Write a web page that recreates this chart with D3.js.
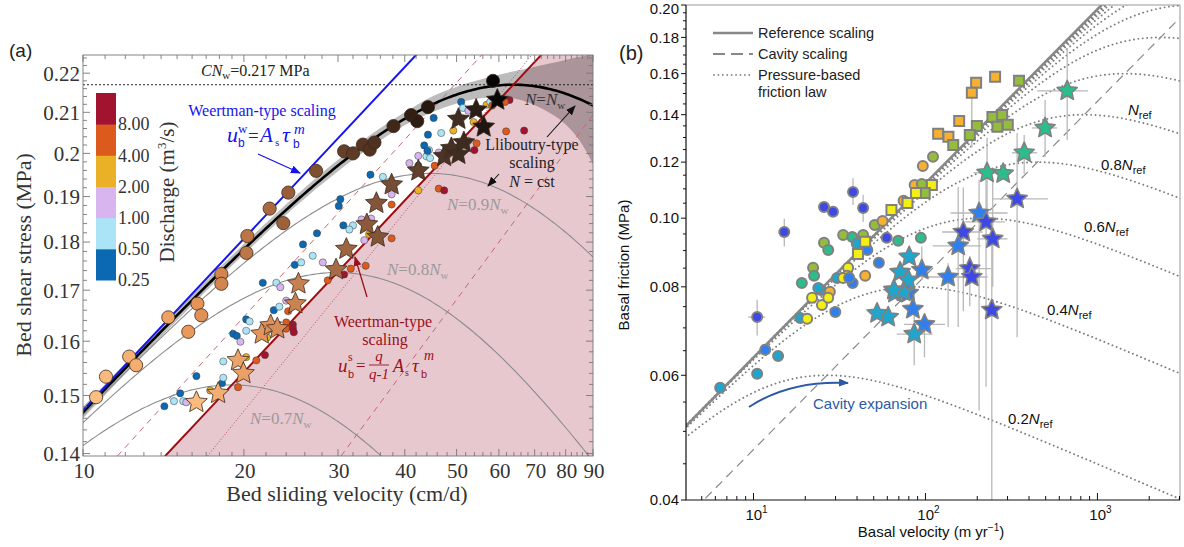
<!DOCTYPE html>
<html>
<head>
<meta charset="utf-8">
<script src="https://cdn.jsdelivr.net/npm/d3@7"></script>
<style>
  body { margin: 0; background: #fff; }
  svg { display: block; }
  .serif { font-family: "Liberation Serif", "Times New Roman", serif; }
  .sans { font-family: "Liberation Sans", Arial, sans-serif; }
</style>
</head>
<body>
<svg id="fig" width="1184" height="547"></svg>
<script>
// ---------- panel (a): bed shear stress (MPa) vs bed sliding velocity (cm/d) ----------
var dischargeLabels = ["0.25", "0.50", "1.00", "2.00", "4.00", "8.00"];
var dischargeColors = ["#0b69b3", "#abe4f6", "#d8b5ef", "#ebb126", "#dc5a1c", "#a2132f"];

// small circles: [velocity, stress, discharge bin]
var smallPts = [
  [14.2,0.1481,0],[14.8,0.1490,1],[15.2,0.1504,0],[15.4,0.1490,1],[15.6,0.1488,2],[16.3,0.1535,0],
  [17.3,0.1509,3],[18.2,0.1522,0],[18.3,0.1532,1],[19.5,0.1515,4],[18.3,0.1562,1],[19.1,0.1614,0],
  [19.4,0.1610,0],[19.7,0.1599,2],[20.2,0.1642,0],[20.5,0.1638,1],[20.2,0.1620,1],[20.2,0.1570,3],
  [21.1,0.1564,4],[21.9,0.1574,5],[21.7,0.1715,0],[23.0,0.1715,1],[23.4,0.1706,2],[24.0,0.1679,2],
  [22.75,0.1660,0],[23.3,0.1667,1],[24.0,0.1636,4],[24.0,0.1624,4],[24.7,0.1632,5],[24.7,0.1625,5],
  [24.8,0.1617,5],[24.9,0.1752,0],[25.6,0.1757,1],[26.9,0.1771,1],[28.1,0.1757,2],[25.8,0.1795,0],
  [27.4,0.1819,0],[30.7,0.1836,0],[32.0,0.1836,1],[31.5,0.1827,1],[33.2,0.1849,2],[33.6,0.1804,2],
  [34.3,0.1817,3],[34.6,0.1851,2],[30.1,0.1879,0],[37.8,0.1882,4],[34.5,0.1950,0],[36.4,0.1945,1],
  [37.8,0.1905,2],[40.8,0.1977,2],[42.4,0.1971,0],[43.9,0.1993,1],[43.5,0.2019,0],[44.4,0.2008,1],
  [46.3,0.2002,2],[46.8,0.2049,1],[44.2,0.2045,0],[45.3,0.2086,0],[51.0,0.2126,0],[51.4,0.2111,1],
  [52.6,0.2104,2],[56.9,0.2119,3],[57.8,0.2126,1],[58.3,0.2117,4],[62.8,0.2131,5],[61.6,0.2126,4],
  [45.5,0.1971,4],[46.3,0.1918,4],[47.4,0.1914,5],[42.4,0.1914,3],[49.3,0.2055,3],[54.0,0.2008,5],
  [54.5,0.2024,4],[52.6,0.2030,3],[53.8,0.2076,3],[61.9,0.2053,4],[66.9,0.2055,5],[37.8,0.1808,4],
  [33.8,0.1750,4],[31.7,0.1744,4],[30.8,0.1732,5],[28.7,0.1720,4],[34.1,0.1836,2],[24.2,0.1658,4],
  [22.1,0.1607,3],[30.3,0.1894,0],[44.1,0.2006,0],[44.6,0.1989,1],[42.4,0.1994,2]
];

// large circles and stars: [velocity, stress]
var bigCircles = [
  [10.58,0.1497],[11.04,0.1534],[12.2,0.1571],[12.57,0.1555],[14.44,0.1646],[15.74,0.1618],
  [16.37,0.1673],[16.65,0.1650],[18.15,0.1733],[18.15,0.1713],[20.22,0.1777],[20.3,0.1813],
  [22.35,0.1873],[23.7,0.1841],[24.22,0.1909],[27.3,0.1959],[30.8,0.2005],[32.0,0.2000],
  [33.4,0.2021],[34.4,0.2009],[35.1,0.2026],[38.1,0.2066],[41.1,0.2093],[42.2,0.2078],
  [44.2,0.2113],[58.5,0.2180]
];
var bigStars = [
  [16.3,0.1488],[17.9,0.1504],[19.5,0.1564],[19.96,0.1540],[21.6,0.1614],[22.45,0.1630],
  [23.1,0.1624],[24.97,0.1673],[25.3,0.1713],[29.75,0.1742],[31.1,0.1785],[33.97,0.1838],
  [35.6,0.1811],[35.4,0.1885],[37.8,0.1927],[42.4,0.1959],[47.4,0.1993],[48.9,0.2012],
  [50.4,0.1998],[51.6,0.2026],[50.4,0.2083],[54.4,0.2106],[56.2,0.2064],[59.6,0.2131]
];

var nRatios = [0.7, 0.8, 0.9, 1.0];
var cNw = 0.217;
var mA = 3.4, qA = 2.4;
var weertVel = 10, weertTau = 0.1474;

// shaded uncertainty band round the N = Nw curve
var bandVel = [10, 15, 20, 25, 30, 35, 40, 45, 50, 55, 60, 65, 70, 75, 80, 85, 90];
var bandHi = [0.1480,0.1660,0.1796,0.1902,0.1985,0.2050,0.2100,0.2140,0.2165,0.2182,0.2196,0.2207,0.2217,0.2226,0.2235,0.2243,0.2250];
var bandLo = [0.1460,0.1640,0.1774,0.1878,0.1958,0.2020,0.2068,0.2100,0.2122,0.2135,0.2138,0.2133,0.2118,0.2097,0.2070,0.2030,0.1975];

var redDashA = [[11.6, 0.1396], [55.7, 0.2248]];
var redDashB = [[30.4, 0.1396], [90, 0.2094]];
var redDot = [[17.1, 0.1396], [69.1, 0.2248]];

// ---------- panel (b): basal friction (MPa) vs basal velocity (m/yr) ----------
var palette = { bv: "#3e48e4", az: "#2f7fee", cy: "#1ea6cf", te: "#2bbd8c", yg: "#94bd3b", ye: "#f3ee14", or: "#f7b02f" };

var circlesB = [
  [15.1,0.0956,"bv"],[25.7,0.1037,"bv"],[29.0,0.1021,"bv"],[37.9,0.1089,"bv"],[43.4,0.1034,"bv"],[10.5,0.0725,"bv"],
  [25.7,0.0923,"yg"],[27.2,0.0902,"te"],[22.2,0.0851,"yg"],[22.5,0.0829,"te"],[19.1,0.0810,"te"],[33.2,0.0947,"yg"],
  [37.5,0.0941,"te"],[43.4,0.0947,"yg"],[50.7,0.0978,"yg"],[56.3,0.0991,"or"],[74.6,0.1058,"or"],[86.5,0.1114,"or"],
  [95.2,0.1118,"yg"],[96.5,0.1185,"or"],[110.6,0.1221,"yg"],[39.9,0.0920,"cy"],[45.9,0.0902,"az"],[59.5,0.0938,"bv"],
  [69.4,0.0929,"te"],[94,0.0938,"te"],[53.6,0.0865,"az"],[30.6,0.0823,"cy"],[35.5,0.0851,"ye"],[35.1,0.0829,"ye"],
  [37.7,0.0810,"az"],[44.6,0.0829,"or"],[24.7,0.0792,"cy"],[27.8,0.0787,"or"],[21.9,0.0772,"ye"],[25.0,0.0754,"ye"],
  [27.2,0.0772,"ye"],[29.9,0.0737,"az"],[18.7,0.0723,"cy"],[20.5,0.0721,"ye"],[6.4,0.0576,"cy"],[10.5,0.0603,"cy"],
  [11.7,0.0652,"az"],[13.9,0.0639,"cy"],[23.8,0.0797,"cy"],[33.2,0.0823,"ye"],[36.0,0.0824,"az"]
];
var squaresB = [
  [197,0.1553,"or"],[186,0.1503,"or"],[254,0.1584,"or"],[350,0.1563,"yg"],[157,0.1372,"or"],[118.5,0.1316,"or"],
  [136,0.1303,"or"],[145,0.1269,"yg"],[199,0.1350,"yg"],[181,0.1311,"yg"],[245,0.1390,"yg"],[279,0.1399,"yg"],
  [262,0.1346,"yg"],[301,0.1355,"yg"],[109,0.1114,"ye"],[99,0.1085,"yg"],[63.4,0.1027,"ye"],[44.6,0.0926,"ye"],
  [40.5,0.0890,"ye"],[78.6,0.1051,"ye"],[88,0.1085,"ye"]
];
var starsB = [
  [667,0.1513,"te"],[496,0.1341,"te"],[375,0.1237,"te"],[228,0.1159,"te"],[283,0.1156,"te"],[341,0.1065,"bv"],
  [205,0.1017,"az"],[225,0.0988,"bv"],[166,0.0956,"bv"],[155,0.0914,"az"],[246,0.0935,"bv"],[80.4,0.0882,"cy"],
  [95.2,0.0845,"az"],[135.4,0.0826,"az"],[181,0.0849,"bv"],[186,0.0826,"bv"],[71.2,0.0839,"cy"],[66.5,0.0784,"cy"],
  [79.4,0.0784,"az"],[84.5,0.0744,"az"],[60.7,0.0725,"cy"],[98.7,0.0708,"az"],[86.0,0.0686,"cy"],[243,0.0742,"bv"],
  [79.4,0.0818,"cy"],[52.3,0.0734,"cy"],[74.6,0.0787,"cy"],[65.5,0.0792,"cy"]
];
// error bars: [velocity, friction, velLo, velHi, fricLo, fricHi]
var errorsB = [
  [667,0.1513,446,883,0.1289,0.1739],[496,0.1341,416,583,0.1219,0.1469],[375,0.1237,318,446,0.1155,0.1311],
  [228,0.1159,190,280,0.1000,0.1300],[341,0.1065,247,516,0.0679,0.1319],[205,0.1017,140,300,0.0535,0.1133],
  [225,0.0988,170,290,0.0578,0.1133],[166,0.0956,125,215,0.0739,0.1105],[155,0.0914,110,210,0.0702,0.1107],
  [246,0.0935,200,300,0.0800,0.1133],[95.2,0.0845,null,null,0.0818,0.0912],[135.4,0.0826,95,200,0.0702,0.0864],
  [181,0.0849,150,240,0.0751,0.0884],[186,0.0826,150,230,null,null],[98.7,0.0708,75,130,0.0636,0.0726],
  [86,0.0686,68,110,0.0620,0.0787],[243,0.0742,null,null,0.0400,0.0935],[15.1,0.0956,null,null,0.0912,0.0998],
  [37.9,0.1089,null,null,0.1044,0.1139],[43.4,0.1034,null,null,0.0988,0.1079],[10.5,0.0725,9.3,11.7,0.0683,0.0767],
  [186,0.1503,null,null,0.1258,0.1503]
];

var frictionPeaks = [0.06, 0.08, 0.10, 0.12, 0.14, 0.16, 0.18, 0.20, 0.22, 0.24, 0.26, 0.28, 0.30];
var peakLabels = ["0.2", "0.4", "0.6", "0.8", ""];
var mB = 4.067, qB = 1.42;
var refVel0 = 1.519, refTau0 = 0.04;

// ---------- helpers ----------
function logspace(a, b, n) {
  return d3.range(n).map(function(i) { return a * Math.pow(b / a, i / (n - 1)); });
}
function frictionLaw(u, tauMax, uMax, m, q) {
  var alpha = Math.pow(q - 1, q - 1) / Math.pow(q, q);
  var chi = u / uMax * q / (q - 1);
  return tauMax * Math.pow(chi / (1 + alpha * Math.pow(chi, q)), 1 / m);
}
var starType = {
  draw: function(ctx, size) {
    var R = Math.sqrt(size), r = R * 0.47;
    for (var i = 0; i < 10; i++) {
      var a = -Math.PI / 2 + i * Math.PI / 5, rr = i % 2 ? r : R;
      if (i) ctx.lineTo(rr * Math.cos(a), rr * Math.sin(a)); else ctx.moveTo(rr * Math.cos(a), rr * Math.sin(a));
    }
    ctx.closePath();
  }
};

var svg = d3.select('#fig');
var defs = svg.append('defs');
function arrowMarker(id, color) {
  defs.append('marker').attr('id', id).attr('markerUnits', 'userSpaceOnUse')
    .attr('markerWidth', 10).attr('markerHeight', 8).attr('refX', 9).attr('refY', 4)
    .attr('orient', 'auto')
    .append('path').attr('d', 'M0,0 L10,4 L0,8 Z').attr('fill', color);
}
arrowMarker('arBlue', '#1212ee');
arrowMarker('arBlack', '#111');
arrowMarker('arRed', '#9a1020');
arrowMarker('arNavy', '#2d5aa6');

// ================= panel (a) =================
var xA = d3.scaleLog().domain([10, 90]).range([83, 593]);
var yA = d3.scaleLog().domain([0.1396, 0.2248]).range([456, 55]);
defs.append('clipPath').attr('id', 'clipA').append('rect').attr('x', 83).attr('y', 55).attr('width', 510).attr('height', 401);

var uW = function(t) { return weertVel * Math.pow(t / weertTau, mA); };
var uS = function(t) { return uW(t) * qA / (qA - 1); };
var lineA = d3.line().x(function(d) { return xA(d[0]); }).y(function(d) { return yA(d[1]); });

var gA = svg.append('g').attr('clip-path', 'url(#clipA)');

// region beyond the Weertman-type (cavity) scaling
var pinkPts = logspace(0.13, 0.24, 30).map(function(t) { return [uS(t), t]; });
pinkPts.push([120, 0.24], [120, 0.13]);
gA.append('path').attr('d', lineA(pinkPts) + 'Z').attr('fill', '#e8c8cf');

// gray band
gA.append('path')
  .datum(bandVel.map(function(u, i) { return [u, bandLo[i], bandHi[i]]; }))
  .attr('d', d3.area().curve(d3.curveMonotoneX)
    .x(function(d) { return xA(d[0]); })
    .y0(function(d) { return yA(d[1]); })
    .y1(function(d) { return yA(d[2]); }))
  .attr('fill', '#222').attr('fill-opacity', 0.3);

// red reference lines
gA.append('path').attr('d', lineA(redDashA)).attr('stroke', '#c56872').attr('stroke-width', 1).attr('stroke-dasharray', '6,5').attr('fill', 'none');
gA.append('path').attr('d', lineA(redDashB)).attr('stroke', '#c56872').attr('stroke-width', 1).attr('stroke-dasharray', '6,5').attr('fill', 'none');
gA.append('path').attr('d', lineA(redDot)).attr('stroke', '#b04a5a').attr('stroke-width', 1).attr('stroke-dasharray', '1,2').attr('fill', 'none');

// top dotted line C Nw
gA.append('line').attr('x1', 83).attr('x2', 593).attr('y1', yA(cNw)).attr('y2', yA(cNw))
  .attr('stroke', '#222').attr('stroke-width', 1).attr('stroke-dasharray', '2,2');

// friction-law curves for each N
nRatios.forEach(function(r) {
  var tp = cNw * r, up = uS(tp);
  var pts = logspace(9, 95, 220).map(function(u) { return [u, frictionLaw(u, tp, up, mA, qA)]; });
  gA.append('path').attr('d', lineA(pts)).attr('fill', 'none')
    .attr('stroke', r === 1 ? '#000' : '#8c8c8c').attr('stroke-width', r === 1 ? 2.6 : 1.1);
});

// Weertman lines
gA.append('path').attr('d', lineA([[9, weertTau * Math.pow(0.9, 1 / mA)], [60, weertTau * Math.pow(6, 1 / mA)]]))
  .attr('stroke', '#1414f0').attr('stroke-width', 2).attr('fill', 'none');
gA.append('path').attr('d', lineA([[uS(0.136), 0.136], [uS(0.23), 0.23]]))
  .attr('stroke', '#9e0c10').attr('stroke-width', 2).attr('fill', 'none');

// markers
gA.selectAll('.sp').data(smallPts).enter().append('circle')
  .attr('cx', function(d) { return xA(d[0]); }).attr('cy', function(d) { return yA(d[1]); })
  .attr('r', 3.6).attr('fill', function(d) { return dischargeColors[d[2]]; })
  .attr('stroke', '#3a3a3a').attr('stroke-width', 0.5);

var circleShade = d3.scaleLog().domain([10, 16, 22, 30, 42, 58]).clamp(true)
  .range(["#ffc386", "#ea9659", "#ad6b40", "#6a4228", "#2e1d12", "#050505"]);
var starShade = d3.scaleLog().domain([16, 22, 30, 40, 52, 60]).clamp(true)
  .range(["#fbbd7f", "#e2935c", "#a56a44", "#6b4530", "#3a2a20", "#050505"]);

gA.selectAll('.bc').data(bigCircles).enter().append('circle')
  .attr('cx', function(d) { return xA(d[0]); }).attr('cy', function(d) { return yA(d[1]); })
  .attr('r', 6.6).attr('fill', function(d) { return circleShade(d[0]); })
  .attr('stroke', '#3b2a1e').attr('stroke-width', 0.8);

gA.selectAll('.bs').data(bigStars).enter().append('path')
  .attr('d', d3.symbol().type(starType).size(132))
  .attr('transform', function(d) { return 'translate(' + xA(d[0]) + ',' + yA(d[1]) + ')'; })
  .attr('fill', function(d) { return starShade(d[0]); })
  .attr('stroke', '#3b2a1e').attr('stroke-width', 0.8);

// frame and ticks
var axA = svg.append('g').attr('stroke', '#777').attr('stroke-width', 0.9);
axA.append('rect').attr('x', 83).attr('y', 55).attr('width', 510).attr('height', 401).attr('fill', 'none');
var yMajA = d3.range(14, 23).map(function(v) { return v / 100; });
var yMinA = d3.range(140, 225, 2).map(function(v) { return v / 1000; })
  .filter(function(v) { return !yMajA.some(function(M) { return Math.abs(M - v) < 1e-9; }); });
var xMajA = d3.range(10, 91, 10);
var xMinA = d3.range(11, 20).concat(d3.range(22, 90, 2).filter(function(v) { return v % 10; }));
yMajA.concat(yMinA).forEach(function(v) {
  var L = yMajA.indexOf(v) >= 0 ? 7 : 4, y = yA(v);
  axA.append('line').attr('x1', 83).attr('x2', 83 + L).attr('y1', y).attr('y2', y);
  axA.append('line').attr('x1', 593 - L).attr('x2', 593).attr('y1', y).attr('y2', y);
});
xMajA.concat(xMinA).forEach(function(v) {
  var L = xMajA.indexOf(v) >= 0 ? 7 : 4, x = xA(v);
  axA.append('line').attr('x1', x).attr('x2', x).attr('y1', 456).attr('y2', 456 - L);
  axA.append('line').attr('x1', x).attr('x2', x).attr('y1', 55).attr('y2', 55 + L);
});
var tA = svg.append('g').attr('class', 'serif').attr('fill', '#333');
yMajA.forEach(function(v) {
  tA.append('text').attr('x', 80).attr('y', yA(v)).attr('dy', '0.35em').attr('text-anchor', 'end')
    .attr('font-size', 21).text(String(+v.toFixed(2)));
});
xMajA.forEach(function(v) {
  tA.append('text').attr('x', xA(v) + 1).attr('y', 478).attr('text-anchor', 'middle').attr('font-size', 21).text(v);
});
tA.append('text').attr('x', 347).attr('y', 501).attr('text-anchor', 'middle').attr('font-size', 22).text('Bed sliding velocity (cm/d)');
tA.append('text').attr('transform', 'translate(31,255) rotate(-90)').attr('text-anchor', 'middle')
  .attr('font-size', 22).text('Bed shear stress (MPa)');

// colour bar
var cbTop = 93, cbBot = 280, cbStep = (cbBot - cbTop) / dischargeColors.length;
dischargeColors.forEach(function(c, i) {
  svg.append('rect').attr('x', 96).attr('y', cbBot - (i + 1) * cbStep).attr('width', 20).attr('height', cbStep + 0.5).attr('fill', c);
});
dischargeLabels.forEach(function(l, i) {
  tA.append('text').attr('x', 118).attr('y', cbBot - i * cbStep).attr('dy', '0.35em').attr('font-size', 18).text(l);
});
var dl = tA.append('text').attr('transform', 'translate(174,192) rotate(-90)').attr('text-anchor', 'middle').attr('font-size', 21);
dl.append('tspan').text('Discharge (m');
dl.append('tspan').attr('font-size', 13).attr('dy', -8).text('3');
dl.append('tspan').attr('dy', 8).text('/s)');

// annotations
var cn = tA.append('text').attr('x', 201).attr('y', 76).attr('font-size', 16).attr('fill', '#222');
cn.append('tspan').attr('font-style', 'italic').text('CN');
cn.append('tspan').attr('font-size', 11).attr('dy', 3).text('w');
cn.append('tspan').attr('dy', -3).text('=0.217 MPa');

tA.append('text').attr('x', 262).attr('y', 116).attr('text-anchor', 'middle').attr('font-size', 16).attr('fill', '#1414f0').text('Weertman-type scaling');
function put(x, y, s, size, opts) {
  var t = svg.append('text').attr('x', x).attr('y', y).attr('font-size', size).text(s)
    .attr('class', opts.sans ? 'sans' : 'serif').attr('fill', opts.fill);
  if (opts.italic) t.attr('font-style', 'italic');
  if (opts.anchor) t.attr('text-anchor', opts.anchor);
  return t;
}
var bl = { fill: '#1414f0' };
put(227, 142, 'u', 22, { fill: bl.fill, italic: true });
put(238, 133, 'w', 13, bl);
put(238, 147, 'b', 12, { fill: bl.fill, sans: true });
put(248, 142, '=', 19, bl);
put(260, 142, 'A', 21, { fill: bl.fill, italic: true });
put(275, 146, 's', 11, bl);
put(282, 142, 'τ', 22, { fill: bl.fill, italic: true });
put(293, 148, 'b', 12, { fill: bl.fill, sans: true });
put(294, 134, 'm', 15, { fill: bl.fill, italic: true });
svg.append('line').attr('x1', 258).attr('y1', 154).attr('x2', 300).attr('y2', 173)
  .attr('stroke', '#1414f0').attr('stroke-width', 1.3).attr('marker-end', 'url(#arBlue)');

var rd = { fill: '#9a1020' };
put(383, 327, 'Weertman-type', 16, { fill: rd.fill, anchor: 'middle' });
put(385, 345, 'scaling', 16, { fill: rd.fill, anchor: 'middle' });
put(338, 372, 'u', 19, { fill: rd.fill, italic: true });
put(348, 361, 's', 12, rd);
put(348, 378, 'b', 11, { fill: rd.fill, sans: true });
put(356, 371, '=', 17, rd);
put(379, 361, 'q', 15, { fill: rd.fill, italic: true, anchor: 'middle' });
svg.append('line').attr('x1', 369).attr('x2', 389).attr('y1', 365).attr('y2', 365).attr('stroke', '#9a1020').attr('stroke-width', 0.9);
put(379, 379, 'q-1', 15, { fill: rd.fill, italic: true, anchor: 'middle' });
put(393, 372, 'A', 18, { fill: rd.fill, italic: true });
put(405, 376, 's', 10, rd);
put(412, 372, 'τ', 19, { fill: rd.fill, italic: true });
put(421, 378, 'b', 11, { fill: rd.fill, sans: true });
put(424, 360, 'm', 14, { fill: rd.fill, italic: true });
svg.append('line').attr('x1', 367).attr('y1', 297).attr('x2', 355).attr('y2', 257)
  .attr('stroke', '#9a1020').attr('stroke-width', 1.3).attr('marker-end', 'url(#arRed)');

var bk = { fill: '#222' };
put(532, 150, 'Lliboutry-type', 16, { fill: bk.fill, anchor: 'middle' });
put(532, 168, 'scaling', 16, { fill: bk.fill, anchor: 'middle' });
var nc = put(532, 187, '', 16, { fill: bk.fill, anchor: 'middle' });
nc.append('tspan').attr('font-style', 'italic').text('N');
nc.append('tspan').text(' = cst');
svg.append('line').attr('x1', 547).attr('y1', 137).attr('x2', 575).attr('y2', 106)
  .attr('stroke', '#111').attr('stroke-width', 1.1).attr('marker-end', 'url(#arBlack)');
svg.append('line').attr('x1', 499).attr('y1', 174).attr('x2', 488).attr('y2', 186)
  .attr('stroke', '#111').attr('stroke-width', 1.1).attr('marker-end', 'url(#arBlack)');

function nLabel(x, y, mult, color) {
  var t = put(x, y, '', 17, { fill: color });
  t.append('tspan').attr('font-style', 'italic').text('N');
  t.append('tspan').text('=' + mult);
  t.append('tspan').attr('font-style', 'italic').text('N');
  t.append('tspan').attr('font-size', 11).attr('dy', 4).text('w');
}
nLabel(525, 105, '', '#333');
nLabel(447, 210, '0.9', '#9a9a9a');
nLabel(387, 275, '0.8', '#9a9a9a');
nLabel(250, 424, '0.7', '#9a9a9a');

svg.append('text').attr('class', 'sans').attr('x', 9).attr('y', 57).attr('font-size', 19).attr('fill', '#222').text('(a)');

// ================= panel (b) =================
var xB = d3.scaleLog().domain([4.05, 3020]).range([686, 1180]);
var yB = d3.scaleLog().domain([0.04, 0.2]).range([500, 5]);
defs.append('clipPath').attr('id', 'clipB').append('rect').attr('x', 686).attr('y', 5).attr('width', 494).attr('height', 495);
var lineB = d3.line().x(function(d) { return xB(d[0]); }).y(function(d) { return yB(d[1]); });
var uRef = function(t) { return refVel0 * Math.pow(t / refTau0, mB); };
var uCav = function(t) { return uRef(t) * qB / (qB - 1); };

var gB = svg.append('g').attr('clip-path', 'url(#clipB)');

// pressure-based friction law curves
frictionPeaks.forEach(function(tp) {
  var up = uCav(tp);
  var pts = logspace(3.5, 3500, 260).map(function(u) { return [u, frictionLaw(u, tp, up, mB, qB)]; });
  gB.append('path').attr('d', lineB(pts)).attr('fill', 'none').attr('stroke', '#7c7c7c')
    .attr('stroke-width', 1.9).attr('stroke-linecap', 'round').attr('stroke-dasharray', '0.01,4.4');
});
// cavity scaling
gB.append('path').attr('d', lineB([[uCav(0.035), 0.035], [uCav(0.21), 0.21]])).attr('fill', 'none')
  .attr('stroke', '#8a8a8a').attr('stroke-width', 1.2).attr('stroke-dasharray', '9,6');
// reference scaling
gB.append('path').attr('d', lineB([[uRef(0.035), 0.035], [uRef(0.21), 0.21]])).attr('fill', 'none')
  .attr('stroke', '#888').attr('stroke-width', 2.6);

// error bars
var eb = gB.append('g').attr('stroke', '#b8b8b8').attr('stroke-width', 1.3);
errorsB.forEach(function(e) {
  if (e[2] !== null) eb.append('line').attr('x1', xB(e[2])).attr('x2', xB(e[3])).attr('y1', yB(e[1])).attr('y2', yB(e[1]));
  if (e[4] !== null) eb.append('line').attr('x1', xB(e[0])).attr('x2', xB(e[0])).attr('y1', yB(e[4])).attr('y2', yB(e[5]));
});

gB.selectAll('.cb').data(circlesB).enter().append('circle')
  .attr('cx', function(d) { return xB(d[0]); }).attr('cy', function(d) { return yB(d[1]); })
  .attr('r', 5).attr('fill', function(d) { return palette[d[2]]; })
  .attr('stroke', '#808080').attr('stroke-width', 2);
gB.selectAll('.sb').data(squaresB).enter().append('path')
  .attr('d', d3.symbol().type(d3.symbolSquare).size(100))
  .attr('transform', function(d) { return 'translate(' + xB(d[0]) + ',' + yB(d[1]) + ')'; })
  .attr('fill', function(d) { return palette[d[2]]; })
  .attr('stroke', '#808080').attr('stroke-width', 2);
gB.selectAll('.tb').data(starsB).enter().append('path')
  .attr('d', d3.symbol().type(starType).size(112))
  .attr('transform', function(d) { return 'translate(' + xB(d[0]) + ',' + yB(d[1]) + ')'; })
  .attr('fill', function(d) { return palette[d[2]]; })
  .attr('stroke', '#808080').attr('stroke-width', 1.6).attr('stroke-linejoin', 'round');

// frame & ticks
svg.append('path').attr('d', 'M686,5 H1180 V500').attr('fill', 'none').attr('stroke', '#999').attr('stroke-width', 1);
svg.append('path').attr('d', 'M686,5 V500 H1180').attr('fill', 'none').attr('stroke', '#111').attr('stroke-width', 1.2);
var axB = svg.append('g').attr('stroke', '#111').attr('stroke-width', 1);
var yMajB = d3.range(4, 21, 2).map(function(v) { return v / 100; });
var yMinB = d3.range(40, 201, 5).map(function(v) { return v / 1000; })
  .filter(function(v) { return !yMajB.some(function(M) { return Math.abs(M - v) < 1e-9; }); });
yMajB.concat(yMinB).forEach(function(v) {
  var maj = yMajB.indexOf(v) >= 0, y = yB(v);
  axB.append('line').attr('x1', maj ? 681 : 683).attr('x2', 686).attr('y1', y).attr('y2', y);
});
var xMajB = [10, 100, 1000];
var xMinB = [5, 6, 7, 8, 9].concat(d3.range(20, 100, 10), d3.range(200, 1000, 100), [2000, 3000]);
xMajB.concat(xMinB).forEach(function(v) {
  var maj = xMajB.indexOf(v) >= 0, x = xB(v);
  axB.append('line').attr('x1', x).attr('x2', x).attr('y1', 500).attr('y2', maj ? 493 : 496);
});
var tB = svg.append('g').attr('class', 'sans').attr('fill', '#111');
yMajB.forEach(function(v) {
  tB.append('text').attr('x', 679).attr('y', Math.max(yB(v), 8.5)).attr('dy', '0.35em').attr('text-anchor', 'end')
    .attr('font-size', 15).text(v.toFixed(2));
});
xMajB.forEach(function(v, i) {
  var t = tB.append('text').attr('x', xB(v) + 3).attr('y', 520).attr('text-anchor', 'middle').attr('font-size', 15);
  t.append('tspan').text('10');
  t.append('tspan').attr('font-size', 10).attr('dy', -7).text(String(i + 1));
});
var xt = tB.append('text').attr('x', 931).attr('y', 537).attr('text-anchor', 'middle').attr('font-size', 15);
xt.append('tspan').text('Basal velocity (m yr');
xt.append('tspan').attr('font-size', 10).attr('dy', -6).text('−1');
xt.append('tspan').attr('dy', 6).text(')');
tB.append('text').attr('transform', 'translate(629,265) rotate(-90)').attr('text-anchor', 'middle')
  .attr('font-size', 15).text('Basal friction (MPa)');

// legend
var lg = svg.append('g');
lg.append('line').attr('x1', 713).attr('x2', 753).attr('y1', 33).attr('y2', 33).attr('stroke', '#888').attr('stroke-width', 2.6);
lg.append('line').attr('x1', 713).attr('x2', 753).attr('y1', 54).attr('y2', 54).attr('stroke', '#888').attr('stroke-width', 2.2).attr('stroke-dasharray', '12,6');
lg.append('line').attr('x1', 714).attr('x2', 753).attr('y1', 75).attr('y2', 75).attr('stroke', '#888').attr('stroke-width', 1.8)
  .attr('stroke-linecap', 'round').attr('stroke-dasharray', '0.01,4.4');
[['Reference scaling', 38], ['Cavity scaling', 59], ['Pressure-based', 80], ['friction law', 97]].forEach(function(r) {
  tB.append('text').attr('x', 758).attr('y', r[1]).attr('font-size', 14.5).attr('fill', '#222').text(r[0]);
});

// curve labels
var labelPos = [[1008, 424], [1047, 315], [1084, 232], [1101, 170], [1128, 115]];
labelPos.forEach(function(p, i) {
  var t = tB.append('text').attr('x', p[0]).attr('y', p[1]).attr('font-size', 15);
  t.append('tspan').text(peakLabels[i]);
  t.append('tspan').attr('font-style', 'italic').text('N');
  t.append('tspan').attr('font-size', 11).attr('dy', 4).text('ref');
});

// cavity expansion arrow
svg.append('path').attr('d', 'M749,407 Q790,380 848,383').attr('fill', 'none')
  .attr('stroke', '#2d5aa6').attr('stroke-width', 2).attr('marker-end', 'url(#arNavy)');
tB.append('text').attr('x', 813).attr('y', 409).attr('font-size', 15).attr('fill', '#2d5aa6').text('Cavity expansion');

svg.append('text').attr('class', 'sans').attr('x', 619).attr('y', 60).attr('font-size', 20).attr('fill', '#222').text('(b)');
</script>
</body>
</html>
